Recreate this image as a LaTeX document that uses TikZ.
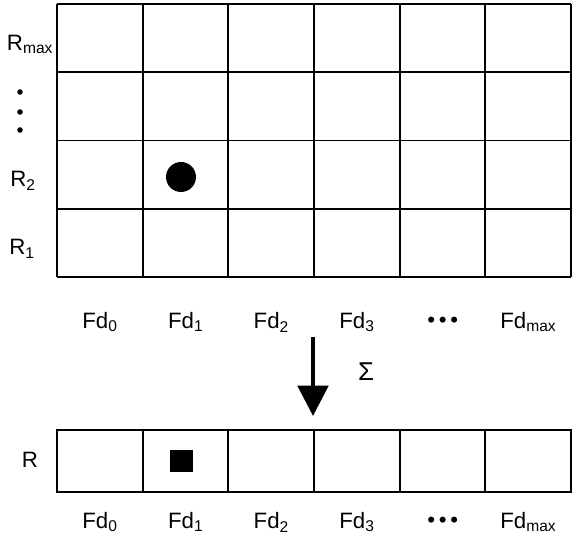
\documentclass[tikz,border=0pt]{standalone}
\usepackage{fontspec}
\setmainfont{Liberation Sans}
\usetikzlibrary{arrows.meta}

\tikzset{
  lbl/.style={font=\fontsize{19}{21}\selectfont},
  cellline/.style={line width=1.7pt},
}
\newcommand{\fdsub}[1]{Fd\textsubscript{#1}}

\begin{document}
\begin{tikzpicture}[x=0.03cm,y=-0.03cm]
\useasboundingbox (0,0) rectangle (577,541);

% upper grid
\foreach \i in {0,...,6}
  \draw[cellline] (57+85.67*\i,4) -- (57+85.67*\i,277);
\foreach \j in {0,...,4}
  \draw[cellline] (57,4+68.25*\j) -- (571,4+68.25*\j);
\fill (181,177) circle (15);

% row labels
\node[lbl] (rmax) at (30,44) {R\textsubscript{max}};
\foreach \y in {92,112,130}
  \fill (20,\y) circle (2.8);
\node[lbl] (rtwo) at (23,181) {R\textsubscript{2}};
\node[lbl] (rone) at (22,249) {R\textsubscript{1}};

% column labels, upper
\foreach \n/\t [count=\k from 0] in {a/\fdsub{0},b/\fdsub{1},c/\fdsub{2},d/\fdsub{3},e/{\textbullet\,\textbullet\,\textbullet},f/\fdsub{max}}
  \node[lbl] (top\n) at (100+85.67*\k,322) {\t};

% summation arrow
\coordinate (arrtop) at (313,337);
\coordinate (arrbot) at (313,416);
\draw[line width=3.5pt,-{Triangle[width=26pt,length=26pt]}] (arrtop) -- (arrbot);
\node[lbl,font=\fontsize{22}{24}\selectfont] (sum) at (366,372) {Σ};

% lower row
\draw[cellline] (57,430) rectangle (571,492);
\foreach \i in {1,...,5}
  \draw[cellline] (57+85.67*\i,430) -- (57+85.67*\i,492);
\fill (170,450) rectangle (193,472);
\node[lbl] (rsum) at (30,460) {R};

% column labels, lower
\foreach \n/\t [count=\k from 0] in {a/\fdsub{0},b/\fdsub{1},c/\fdsub{2},d/\fdsub{3},e/{\textbullet\,\textbullet\,\textbullet},f/\fdsub{max}}
  \node[lbl] (bot\n) at (100+85.67*\k,522) {\t};
\end{tikzpicture}
\end{document}
